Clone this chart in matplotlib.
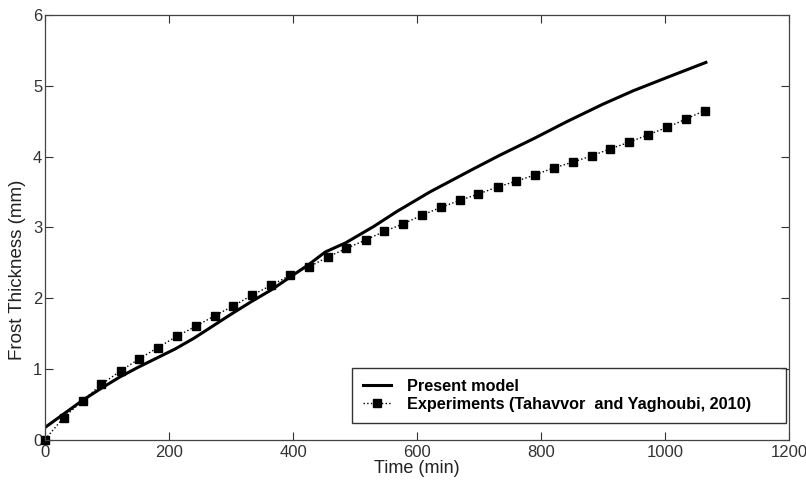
import numpy as np
import matplotlib
matplotlib.use("Agg")
import matplotlib.pyplot as plt

plt.rcParams['font.family'] = ['Liberation Sans', 'DejaVu Sans']

# present model (solid curve)
model_time = [0, 30, 60, 90, 120, 150, 180, 210, 240, 270, 300, 333, 366, 396,
              425, 452, 485, 530, 567, 621, 690, 734, 790, 841, 900, 949, 1010, 1066]
model_thick = [0.17, 0.36, 0.55, 0.72, 0.88, 1.02, 1.15, 1.28, 1.43, 1.60, 1.77,
               1.95, 2.12, 2.30, 2.47, 2.65, 2.78, 3.01, 3.22, 3.50, 3.82, 4.02,
               4.26, 4.49, 4.74, 4.93, 5.14, 5.33]

# experiments (Tahavvor and Yaghoubi, 2010)
exp_time = [0, 30, 61, 91, 122, 152, 182, 213, 243, 274, 304, 334, 365, 395,
            426, 456, 486, 517, 547, 578, 608, 638, 669, 699, 730, 760, 790,
            821, 851, 882, 912, 942, 973, 1003, 1034, 1064]
exp_thick = [0.00, 0.31, 0.55, 0.78, 0.97, 1.14, 1.30, 1.46, 1.60, 1.75, 1.89,
             2.04, 2.18, 2.32, 2.44, 2.58, 2.70, 2.82, 2.94, 3.05, 3.17, 3.28,
             3.38, 3.47, 3.57, 3.65, 3.74, 3.84, 3.92, 4.01, 4.11, 4.20, 4.31,
             4.41, 4.53, 4.65]

fig = plt.figure(figsize=(8.06, 4.86), dpi=100)
ax = fig.add_axes([45/806, 1 - 439.5/486, 744/806, 424.5/486])

ax.plot(model_time, model_thick, color='black', lw=2.2, label='Present model')
ax.plot(exp_time, exp_thick, color='black', ls=':', lw=1.0, marker='s', ms=5.8,
        label='Experiments (Tahavvor  and Yaghoubi, 2010)', clip_on=False)

ax.set_xlim(0, 1200)
ax.set_ylim(0, 6)
ax.set_xticks(np.arange(0, 1201, 200))
ax.set_yticks(np.arange(0, 7, 1))
ax.tick_params(direction='in', length=6, width=0.8, top=True, right=True,
               labelsize=12, colors='#333333', pad=2)
ax.tick_params(axis='x', pad=4)
for s in ax.spines.values():
    s.set_color('#444444')
    s.set_linewidth(0.9)

ax.set_xlabel('Time (min)', fontsize=13, labelpad=0, color='#222222')
ax.set_ylabel('Frost Thickness (mm)', fontsize=13.5, color='#222222')
ax.yaxis.set_label_coords(-0.026, 0.40)

# legend box stretched like the MATLAB one (extra room on the right)
leg = ax.legend(loc='lower left', bbox_to_anchor=(0.412, 0.039, 0.584, 0.137),
                mode='expand', borderaxespad=0, fancybox=False, frameon=True,
                edgecolor='black', prop={'weight': 'bold', 'size': 11.7},
                handlelength=1.7, borderpad=0.7, labelspacing=0.15,
                handletextpad=1.0)
leg.get_frame().set_linewidth(1.0)

fig.savefig('out.png', dpi=100)
